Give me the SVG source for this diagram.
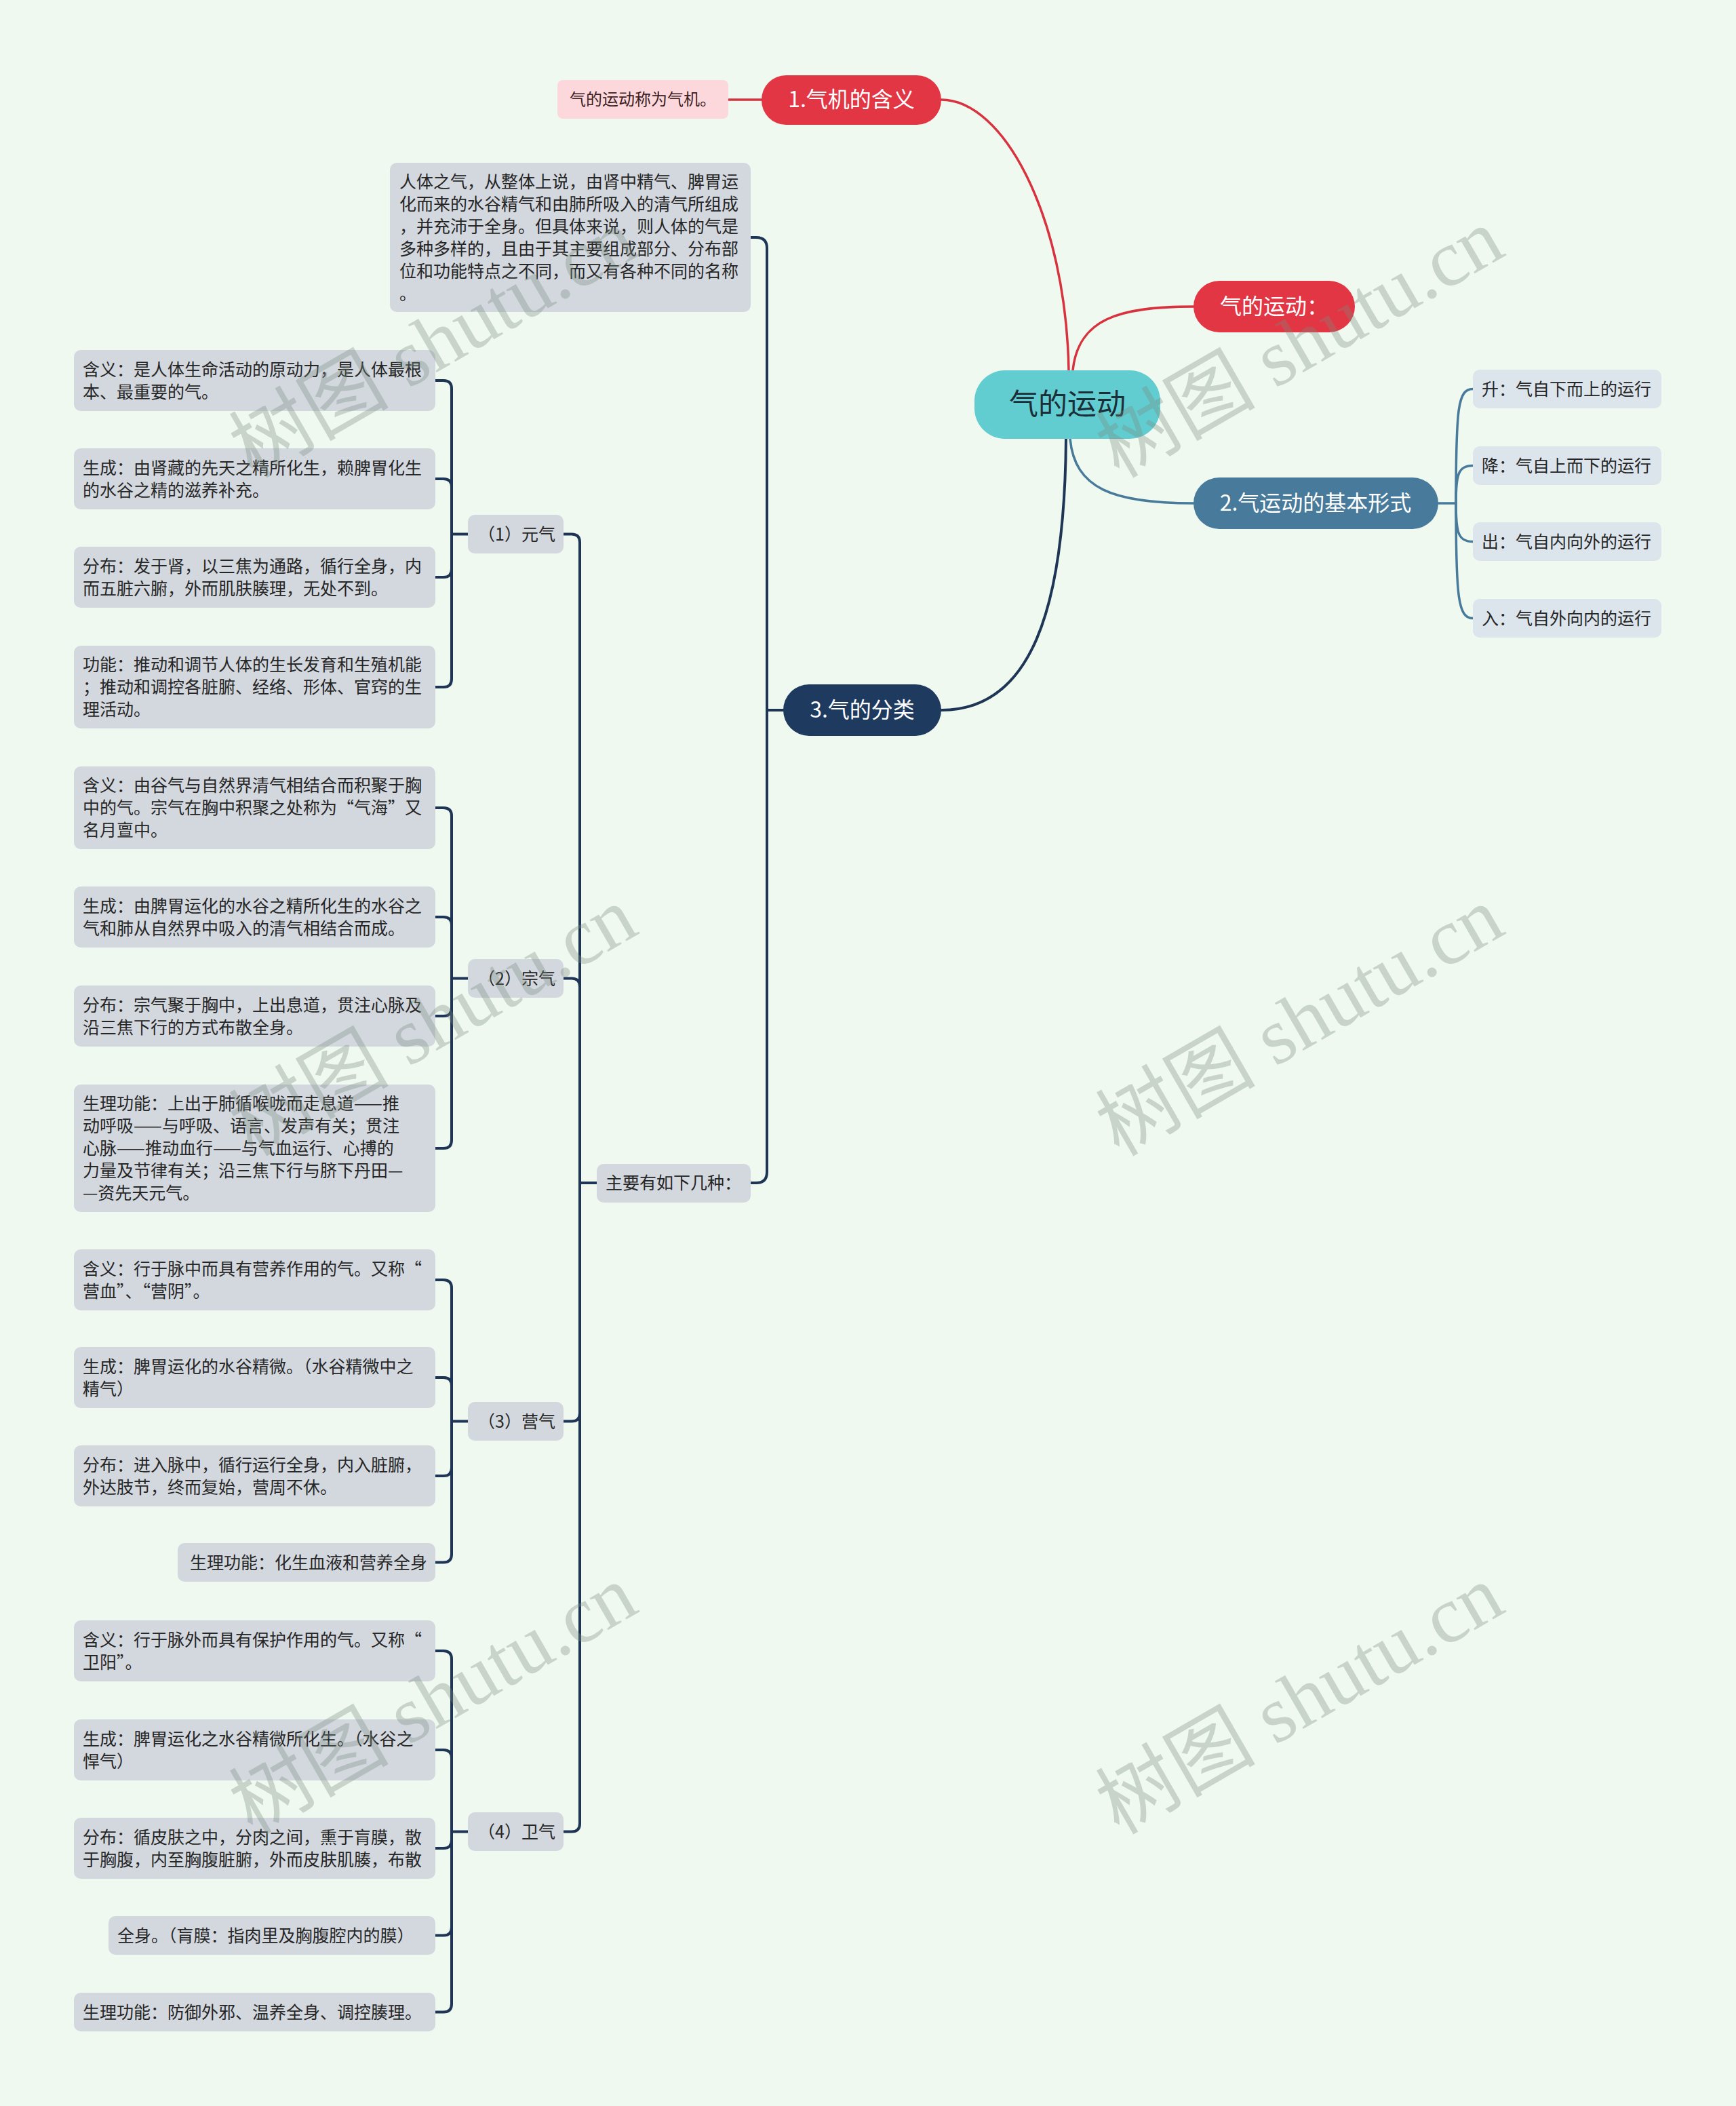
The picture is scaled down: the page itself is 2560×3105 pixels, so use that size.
<svg xmlns="http://www.w3.org/2000/svg" width="2560" height="3105" viewBox="0 0 2560 3105">
<style>
text{font-family:"Noto Sans CJK SC","Noto Sans",sans-serif}
.bx{fill:#d3d8df}
.lb{fill:#dce4ec}
.lt{font-size:25px;fill:#262626}
.mt{font-size:32px;fill:#ffffff;text-anchor:middle}
.nv{fill:none;stroke:#1e3556;stroke-width:4;stroke-linecap:round}
.bl{fill:none;stroke:#487a9b;stroke-width:3.5;stroke-linecap:round}
.rd{fill:none;stroke:#d8323f;stroke-width:3.5;stroke-linecap:round}
.wm{font-family:"Liberation Serif","Noto Sans CJK SC",serif;font-size:118px;fill:#7a8a7e;opacity:0.33}
</style>
<rect x="0" y="0" width="2560" height="3105" fill="#eff9ef"/>

<g id="connectors">
  <path class="rd" d="M1576,546 C1572,320 1480,147 1388,147"/>
  <path class="rd" d="M1123,147 H1074"/>
  <path class="rd" d="M1582,546 C1590,470 1650,452 1760,452"/>
  <path class="bl" d="M1578,647 C1585,720 1640,742 1760,742"/>
  <path class="nv" d="M1572,647 C1570,900 1520,1047 1388,1047"/>
  <path class="bl" d="M2121,742 H2147"/>
  <path class="bl" d="M2147,742 C2147,600 2150,573.5 2172,573.5"/>
  <path class="bl" d="M2147,742 C2147,700 2150,686.5 2172,686.5"/>
  <path class="bl" d="M2147,742 C2147,785 2150,798.5 2172,798.5"/>
  <path class="bl" d="M2147,742 C2147,880 2150,911.5 2172,911.5"/>
  <path class="nv" d="M1155,1047 H1131"/>
  <path class="nv" d="M1107,350 H1115 Q1131,350 1131,366 V1047"/>
  <path class="nv" d="M1107,1744 H1115 Q1131,1744 1131,1728 V1047"/>
  <path class="nv" d="M880,1744 H855"/>
  <path class="nv" d="M831,787.5 H843 Q855,787.5 855,799.5 V1744"/>
  <path class="nv" d="M831,1442.5 H843 Q855,1442.5 855,1454.5 V1744"/>
  <path class="nv" d="M831,2095.5 H843 Q855,2095.5 855,2083.5 V1744"/>
  <path class="nv" d="M831,2700.5 H843 Q855,2700.5 855,2688.5 V1744"/>
  <path class="nv" d="M690,787.5 H666"/>
  <path class="nv" d="M642,561 H654 Q666,561 666,573 V787.5"/>
  <path class="nv" d="M642,706 H654 Q666,706 666,718 V787.5"/>
  <path class="nv" d="M642,851 H654 Q666,851 666,839 V787.5"/>
  <path class="nv" d="M642,1013 H654 Q666,1013 666,1001 V787.5"/>
  <path class="nv" d="M690,1442.5 H666"/>
  <path class="nv" d="M642,1191 H654 Q666,1191 666,1203 V1442.5"/>
  <path class="nv" d="M642,1352 H654 Q666,1352 666,1364 V1442.5"/>
  <path class="nv" d="M642,1498 H654 Q666,1498 666,1486 V1442.5"/>
  <path class="nv" d="M642,1693 H654 Q666,1693 666,1681 V1442.5"/>
  <path class="nv" d="M690,2095.5 H666"/>
  <path class="nv" d="M642,1887 H654 Q666,1887 666,1899 V2095.5"/>
  <path class="nv" d="M642,2031 H654 Q666,2031 666,2043 V2095.5"/>
  <path class="nv" d="M642,2176 H654 Q666,2176 666,2164 V2095.5"/>
  <path class="nv" d="M642,2303.5 H654 Q666,2303.5 666,2291.5 V2095.5"/>
  <path class="nv" d="M690,2700.5 H666"/>
  <path class="nv" d="M642,2434 H654 Q666,2434 666,2446 V2700.5"/>
  <path class="nv" d="M642,2580 H654 Q666,2580 666,2592 V2700.5"/>
  <path class="nv" d="M642,2725 H654 Q666,2725 666,2713 V2700.5"/>
  <path class="nv" d="M642,2853.5 H654 Q666,2853.5 666,2841.5 V2700.5"/>
  <path class="nv" d="M642,2966.5 H654 Q666,2966.5 666,2954.5 V2700.5"/>
</g>

<g id="root">
  <rect x="1437" y="546" width="274" height="101" rx="45" fill="#62cdd0"/>
  <text x="1574" y="611" font-size="43" fill="#1c2e38" text-anchor="middle">气的运动</text>
</g>

<g id="n1">
  <rect x="1123" y="111" width="265" height="73" rx="36" fill="#e23645"/>
  <text class="mt" x="1255.5" y="158" font-size="31">1.气机的含义</text>
</g>
<g id="n1a">
  <rect x="822" y="118" width="252" height="57" rx="8" fill="#fcd8dc"/>
  <text x="948" y="155" font-size="24" fill="#3b1d22" text-anchor="middle">气的运动称为气机。</text>
</g>

<g id="nq">
  <rect x="1760" y="414" width="238" height="76" rx="38" fill="#e23645"/>
  <text class="mt" x="1879" y="463" font-size="31">气的运动：</text>
</g>

<g id="n2">
  <rect x="1760" y="704" width="361" height="76" rx="38" fill="#487a9b"/>
  <text class="mt" x="1940" y="753">2.气运动的基本形式</text>
</g>
<g id="n2a"><rect class="lb" x="2172" y="545" width="278" height="57" rx="10"/><text class="lt" x="2185" y="582.5">升：气自下而上的运行</text></g>
<g id="n2b"><rect class="lb" x="2172" y="658" width="278" height="57" rx="10"/><text class="lt" x="2185" y="695.5">降：气自上而下的运行</text></g>
<g id="n2c"><rect class="lb" x="2172" y="770" width="278" height="57" rx="10"/><text class="lt" x="2185" y="807.5">出：气自内向外的运行</text></g>
<g id="n2d"><rect class="lb" x="2172" y="883" width="278" height="57" rx="10"/><text class="lt" x="2185" y="920.5">入：气自外向内的运行</text></g>

<g id="n3">
  <rect x="1155" y="1009" width="233" height="76" rx="38" fill="#1e3a5f"/>
  <text class="mt" x="1271.5" y="1058">3.气的分类</text>
</g>

<g id="n3a">
  <rect class="bx" x="575" y="240" width="532" height="220" rx="10"/>
  <text class="lt" x="589" y="276.5">人体之气，从整体上说，由肾中精气、脾胃运</text>
  <text class="lt" x="589" y="309.5">化而来的水谷精气和由肺所吸入的清气所组成</text>
  <text class="lt" x="589" y="342.5">，并充沛于全身。但具体来说，则人体的气是</text>
  <text class="lt" x="589" y="375.5">多种多样的，且由于其主要组成部分、分布部</text>
  <text class="lt" x="589" y="408.5">位和功能特点之不同，而又有各种不同的名称</text>
  <text class="lt" x="589" y="441.5">。</text>
</g>

<g id="n3b">
  <rect class="bx" x="880" y="1716" width="227" height="57" rx="10"/>
  <text class="lt" x="893" y="1753">主要有如下几种：</text>
</g>

<g id="k1"><rect class="bx" x="690" y="759" width="141" height="57" rx="10"/><text class="lt" x="819" y="796.5" text-anchor="end">（1）元气</text></g>
<g id="k2"><rect class="bx" x="690" y="1414" width="141" height="57" rx="10"/><text class="lt" x="819" y="1451.5" text-anchor="end">（2）宗气</text></g>
<g id="k3"><rect class="bx" x="690" y="2067" width="141" height="57" rx="10"/><text class="lt" x="819" y="2104.5" text-anchor="end">（3）营气</text></g>
<g id="k4"><rect class="bx" x="690" y="2672" width="141" height="57" rx="10"/><text class="lt" x="819" y="2709.5" text-anchor="end">（4）卫气</text></g>

<g id="k1a"><rect class="bx" x="109" y="516" width="533" height="90" rx="10"/>
  <text class="lt" x="122" y="553.5">含义：是人体生命活动的原动力，是人体最根</text>
  <text class="lt" x="122" y="586.5">本、最重要的气。</text></g>
<g id="k1b"><rect class="bx" x="109" y="661" width="533" height="90" rx="10"/>
  <text class="lt" x="122" y="698.5">生成：由肾藏的先天之精所化生，赖脾胃化生</text>
  <text class="lt" x="122" y="731.5">的水谷之精的滋养补充。</text></g>
<g id="k1c"><rect class="bx" x="109" y="806" width="533" height="90" rx="10"/>
  <text class="lt" x="122" y="843.5">分布：发于肾，以三焦为通路，循行全身，内</text>
  <text class="lt" x="122" y="876.5">而五脏六腑，外而肌肤腠理，无处不到。</text></g>
<g id="k1d"><rect class="bx" x="109" y="952" width="533" height="122" rx="10"/>
  <text class="lt" x="122" y="989">功能：推动和调节人体的生长发育和生殖机能</text>
  <text class="lt" x="122" y="1022">；推动和调控各脏腑、经络、形体、官窍的生</text>
  <text class="lt" x="122" y="1055">理活动。</text></g>

<g id="k2a"><rect class="bx" x="109" y="1130" width="533" height="122" rx="10"/>
  <text class="lt" x="122" y="1167">含义：由谷气与自然界清气相结合而积聚于胸</text>
  <text class="lt" x="122" y="1200">中的气。宗气在胸中积聚之处称为“气海”又</text>
  <text class="lt" x="122" y="1233">名月亶中。</text></g>
<g id="k2b"><rect class="bx" x="109" y="1307" width="533" height="90" rx="10"/>
  <text class="lt" x="122" y="1344.5">生成：由脾胃运化的水谷之精所化生的水谷之</text>
  <text class="lt" x="122" y="1377.5">气和肺从自然界中吸入的清气相结合而成。</text></g>
<g id="k2c"><rect class="bx" x="109" y="1453" width="533" height="90" rx="10"/>
  <text class="lt" x="122" y="1490.5">分布：宗气聚于胸中，上出息道，贯注心脉及</text>
  <text class="lt" x="122" y="1523.5">沿三焦下行的方式布散全身。</text></g>
<g id="k2d"><rect class="bx" x="109" y="1599" width="533" height="188" rx="10"/>
  <text class="lt" x="122" y="1636">生理功能：上出于肺循喉咙而走息道——推</text>
  <text class="lt" x="122" y="1669">动呼吸——与呼吸、语言、发声有关；贯注</text>
  <text class="lt" x="122" y="1702">心脉——推动血行——与气血运行、心搏的</text>
  <text class="lt" x="122" y="1735">力量及节律有关；沿三焦下行与脐下丹田—</text>
  <text class="lt" x="122" y="1768">—资先天元气。</text></g>

<g id="k3a"><rect class="bx" x="109" y="1842" width="533" height="90" rx="10"/>
  <text class="lt" x="122" y="1879.5">含义：行于脉中而具有营养作用的气。又称“</text>
  <text class="lt" x="122" y="1912.5">营血”、“营阴”。</text></g>
<g id="k3b"><rect class="bx" x="109" y="1986" width="533" height="90" rx="10"/>
  <text class="lt" x="122" y="2023.5">生成：脾胃运化的水谷精微。（水谷精微中之</text>
  <text class="lt" x="122" y="2056.5">精气）</text></g>
<g id="k3c"><rect class="bx" x="109" y="2131" width="533" height="90" rx="10"/>
  <text class="lt" x="122" y="2168.5">分布：进入脉中，循行运行全身，内入脏腑，</text>
  <text class="lt" x="122" y="2201.5">外达肢节，终而复始，营周不休。</text></g>
<g id="k3d"><rect class="bx" x="262" y="2275" width="380" height="57" rx="10"/>
  <text class="lt" x="630" y="2312.5" text-anchor="end">生理功能：化生血液和营养全身</text></g>

<g id="k4a"><rect class="bx" x="109" y="2389" width="533" height="90" rx="10"/>
  <text class="lt" x="122" y="2426.5">含义：行于脉外而具有保护作用的气。又称“</text>
  <text class="lt" x="122" y="2459.5">卫阳”。</text></g>
<g id="k4b"><rect class="bx" x="109" y="2535" width="533" height="90" rx="10"/>
  <text class="lt" x="122" y="2572.5">生成：脾胃运化之水谷精微所化生。（水谷之</text>
  <text class="lt" x="122" y="2605.5">悍气）</text></g>
<g id="k4c"><rect class="bx" x="109" y="2680" width="533" height="90" rx="10"/>
  <text class="lt" x="122" y="2717.5">分布：循皮肤之中，分肉之间，熏于肓膜，散</text>
  <text class="lt" x="122" y="2750.5">于胸腹，内至胸腹脏腑，外而皮肤肌腠，布散</text></g>
<g id="k4d"><rect class="bx" x="160" y="2825" width="482" height="57" rx="10"/>
  <text class="lt" x="173" y="2862.5">全身。（肓膜：指肉里及胸腹腔内的膜）</text></g>
<g id="k4e"><rect class="bx" x="109" y="2938" width="533" height="57" rx="10"/>
  <text class="lt" x="122" y="2975.5">生理功能：防御外邪、温养全身、调控腠理。</text></g>

<g id="watermarks">
  <text class="wm" transform="translate(372,706) rotate(-30)">树图 shutu.cn</text>
  <text class="wm" transform="translate(1650,706) rotate(-30)">树图 shutu.cn</text>
  <text class="wm" transform="translate(372,1706) rotate(-30)">树图 shutu.cn</text>
  <text class="wm" transform="translate(1650,1706) rotate(-30)">树图 shutu.cn</text>
  <text class="wm" transform="translate(372,2706) rotate(-30)">树图 shutu.cn</text>
  <text class="wm" transform="translate(1650,2706) rotate(-30)">树图 shutu.cn</text>
</g>
</svg>
